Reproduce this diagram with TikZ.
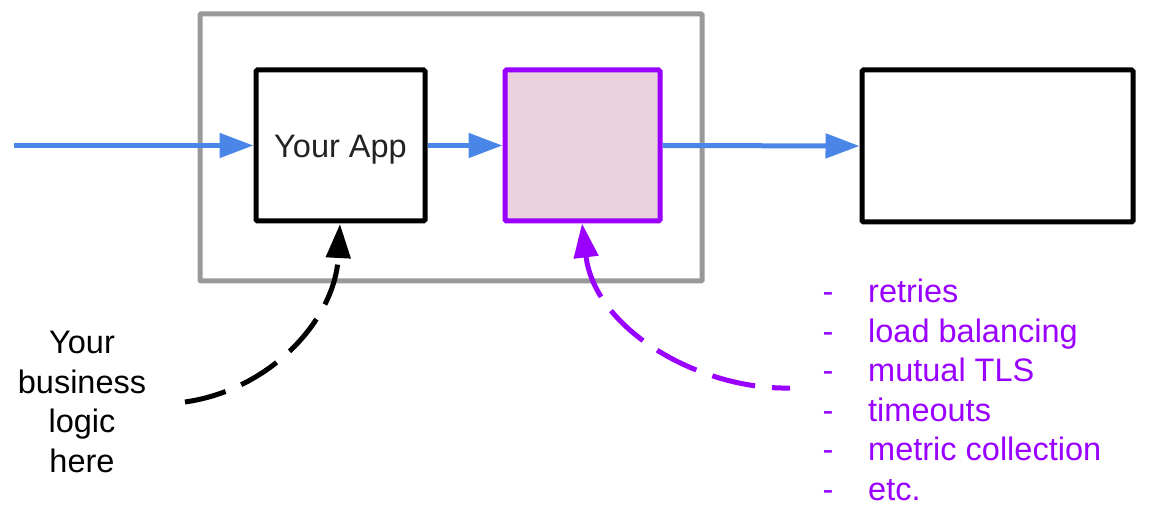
\documentclass[tikz,border=0pt]{standalone}
\usepackage{fontspec}
\setmainfont{Liberation Sans}
\usetikzlibrary{arrows.meta}
\definecolor{flowblue}{HTML}{4A86E8}
\definecolor{proxypurple}{HTML}{9900FF}
\definecolor{proxypink}{HTML}{EAD1DC}
\definecolor{podgray}{HTML}{999999}
\definecolor{appink}{HTML}{222222}
\tikzset{
  boxstyle/.style={draw=black, line width=5pt, rounded corners=1.5pt, inner sep=0pt},
  flow/.style={draw=flowblue, line width=5pt, -{Triangle[length=34pt,width=24pt]}},
  bigtext/.style={font=\fontsize{32.5}{39.5}\selectfont, inner sep=0pt, anchor=base},
  listtext/.style={bigtext, text=proxypurple, anchor=base west},
  listdash/.style={bigtext, text=proxypurple},
  curvearrow/.style={line width=5pt, -{Triangle[length=34pt,width=24pt]}}
}
\begin{document}
\begin{tikzpicture}[x=1pt,y=-1pt]
\useasboundingbox (0,0) rectangle (1153,510);
% pod
\node[draw=podgray, line width=5pt, rounded corners=1pt, minimum width=502pt, minimum height=267pt, inner sep=0pt] (pod) at (451,147.5) {};
% boxes
\node[boxstyle, draw=black, minimum width=169pt, minimum height=151pt, text=appink, font=\fontsize{32.5}{39.5}\selectfont, text height=26pt, text depth=2pt] (app) at (340.5,145.5) {Your App};
\node[boxstyle, draw=proxypurple, fill=proxypink, minimum width=155pt, minimum height=151pt] (proxy) at (582.5,145.5) {};
\node[boxstyle, minimum width=271pt, minimum height=152pt] (svc) at (997.5,146) {};
% flow
\coordinate (src) at (14,145.5);
\draw[flow] (src) -- (app.west);
\draw[flow] (app.east) -- (proxy.west);
\draw[flow] (proxy.east) -- (svc.west);
% business logic
\node[bigtext] (bl1) at (82,353.5) {Your};
\node[bigtext] (bl2) at (82,393) {business};
\node[bigtext] (bl3) at (82,432.5) {logic};
\node[bigtext] (bl4) at (82,472) {here};
\coordinate (blstart) at (185,402);
\coordinate (apptip) at (340,224);
\draw[curvearrow, draw=black, dash pattern=on 42pt off 17pt] (blstart) .. controls (270,390) and (335,320) .. (apptip);
% list
\node[listdash] (d1) at (828,303) {-};
\node[listdash] (d2) at (828,342.4) {-};
\node[listdash] (d3) at (828,381.8) {-};
\node[listdash] (d4) at (828,421.2) {-};
\node[listdash] (d5) at (828,460.6) {-};
\node[listdash] (d6) at (828,500) {-};
\node[listtext] (i1) at (868,303) {retries};
\node[listtext] (i2) at (868,342.4) {load balancing};
\node[listtext] (i3) at (868,381.8) {mutual TLS};
\node[listtext] (i4) at (868,421.2) {timeouts};
\node[listtext] (i5) at (868,460.6) {metric collection};
\node[listtext] (i6) at (868,500) {etc.};
\coordinate (liststart) at (790,388);
\coordinate (proxytip) at (582,223.5);
\draw[curvearrow, draw=proxypurple, dash pattern=on 44pt off 17pt, dash phase=26pt] (liststart) .. controls (700,390) and (595,330) .. (proxytip);
\end{tikzpicture}
\end{document}
